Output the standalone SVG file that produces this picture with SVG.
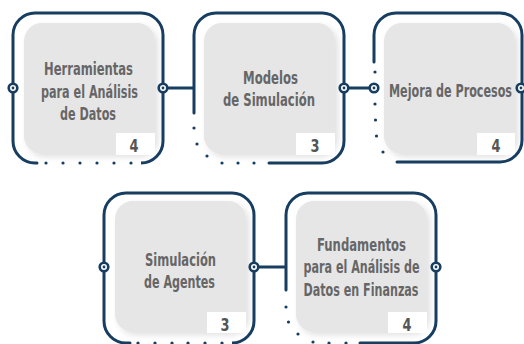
<svg xmlns="http://www.w3.org/2000/svg" width="524" height="344" viewBox="0 0 524 344">
<defs>
<style>
.frame{fill:none;stroke:#173d61;stroke-width:3;stroke-linecap:round}
.dot{fill:#173d61}
.card{fill:#e6e6e6}
.badge{fill:#ffffff}
.port{fill:#ffffff;stroke:#173d61;stroke-width:2.6}
.pc{fill:#173d61}
.lbl{font-family:"DejaVu Sans Condensed","Liberation Sans",sans-serif;font-weight:bold;font-size:17px;fill:#666666;text-anchor:middle}
.num{font-family:"DejaVu Sans Condensed","Liberation Sans",sans-serif;font-weight:bold;font-size:17px;fill:#555555;text-anchor:middle}
.conn{stroke:#173d61;stroke-width:3;fill:none}
</style>
<filter id="sh" x="-10%" y="-10%" width="130%" height="130%">
<feDropShadow dx="3" dy="3" stdDeviation="3" flood-color="#000" flood-opacity="0.12"/>
</filter>
</defs>
<rect width="524" height="344" fill="#ffffff"/>

<g id="connectors">
<line class="conn" x1="163" y1="88" x2="194" y2="88"/>
<line class="conn" x1="344" y1="88" x2="373" y2="88"/>
<line class="conn" x1="254" y1="267" x2="286" y2="267"/>
</g>

<g id="node1">
<rect class="card" x="24" y="23" width="131" height="131" rx="18" filter="url(#sh)"/>
<rect class="badge" x="116" y="133" width="39" height="22"/>
<path class="frame" d="M142,163 H141 A22,22 0 0 0 163,141 V35 A22,22 0 0 0 141,13 H35 A22,22 0 0 0 13,35 V141 A22,22 0 0 0 35,163 H37"/>
<g class="dot"><circle cx="46" cy="163" r="1.6"/><circle cx="63" cy="163" r="1.6"/><circle cx="80" cy="163" r="1.6"/><circle cx="97" cy="163" r="1.6"/><circle cx="114" cy="163" r="1.6"/><circle cx="131" cy="163" r="1.6"/></g>
<circle class="port" cx="13" cy="88" r="4.3"/><circle class="pc" cx="13" cy="88" r="1.4"/>
<circle class="port" cx="163" cy="88" r="4.3"/><circle class="pc" cx="163" cy="88" r="1.4"/>
<text class="lbl" x="88.5" y="75" textLength="89" lengthAdjust="spacingAndGlyphs">Herramientas</text>
<text class="lbl" x="89.5" y="97.5" textLength="97" lengthAdjust="spacingAndGlyphs">para el Análisis</text>
<text class="lbl" x="88" y="120" textLength="56" lengthAdjust="spacingAndGlyphs">de Datos</text>
<text class="num" x="134" y="152" textLength="9" lengthAdjust="spacingAndGlyphs">4</text>
</g>

<g id="node2">
<rect class="card" x="204" y="23" width="131" height="131" rx="18" filter="url(#sh)"/>
<rect class="badge" x="296" y="133" width="39" height="22"/>
<path class="frame" d="M269,163 H322 A22,22 0 0 0 344,141 V35 A22,22 0 0 0 322,13 H216 A22,22 0 0 0 194,35 V113"/>
<g class="dot"><circle cx="194" cy="128" r="1.6"/><circle cx="197" cy="144" r="1.6"/><circle cx="207" cy="156" r="1.6"/><circle cx="222" cy="163" r="1.6"/><circle cx="238" cy="163" r="1.6"/><circle cx="254" cy="163" r="1.6"/></g>
<circle class="port" cx="344" cy="88" r="4.3"/><circle class="pc" cx="344" cy="88" r="1.4"/>
<text class="lbl" x="270.5" y="83.5" textLength="55" lengthAdjust="spacingAndGlyphs">Modelos</text>
<text class="lbl" x="269" y="106" textLength="92" lengthAdjust="spacingAndGlyphs">de Simulación</text>
<text class="num" x="315" y="152" textLength="9" lengthAdjust="spacingAndGlyphs">3</text>
</g>

<g id="node3">
<rect class="card" x="384" y="23" width="131" height="131" rx="18" filter="url(#sh)"/>
<rect class="badge" x="477" y="133" width="38" height="22"/>
<path class="frame" d="M397,162 H500 A22,22 0 0 0 522,140 V35 A22,22 0 0 0 500,13 H396 A22,22 0 0 0 374,35 V62"/>
<g class="dot"><circle cx="375" cy="72" r="1.6"/><circle cx="375" cy="104" r="1.6"/><circle cx="375.5" cy="120" r="1.6"/><circle cx="376.5" cy="136" r="1.6"/><circle cx="383" cy="152" r="1.6"/></g>
<circle class="port" cx="374" cy="88" r="4.3"/><circle class="pc" cx="374" cy="88" r="1.4"/>
<circle class="port" cx="521" cy="88" r="4.3"/><circle class="pc" cx="521" cy="88" r="1.4"/>
<text class="lbl" x="0" y="0" transform="translate(450.5,97) scale(0.73,1)">Mejora de Procesos</text>
<text class="num" x="496" y="152" textLength="9" lengthAdjust="spacingAndGlyphs">4</text>
</g>

<g id="node4">
<rect class="card" x="115" y="201" width="131" height="131" rx="18" filter="url(#sh)"/>
<rect class="badge" x="207" y="312" width="39" height="21"/>
<path class="frame" d="M233,343 H232 A22,22 0 0 0 254,321 V215 A22,22 0 0 0 232,193 H126 A22,22 0 0 0 104,215 V321 A22,22 0 0 0 126,343 H130"/>
<g class="dot"><circle cx="138" cy="343" r="1.6"/><circle cx="155" cy="343" r="1.6"/><circle cx="172" cy="343" r="1.6"/><circle cx="188" cy="343" r="1.6"/><circle cx="205" cy="343" r="1.6"/><circle cx="222" cy="343" r="1.6"/></g>
<circle class="port" cx="104" cy="267" r="4.3"/><circle class="pc" cx="104" cy="267" r="1.4"/>
<circle class="port" cx="254" cy="267" r="4.3"/><circle class="pc" cx="254" cy="267" r="1.4"/>
<text class="lbl" x="180.5" y="266" textLength="71" lengthAdjust="spacingAndGlyphs">Simulación</text>
<text class="lbl" x="179.5" y="287.5" textLength="71" lengthAdjust="spacingAndGlyphs">de Agentes</text>
<text class="num" x="225" y="331" textLength="9" lengthAdjust="spacingAndGlyphs">3</text>
</g>

<g id="node5">
<rect class="card" x="296" y="201" width="131" height="131" rx="18" filter="url(#sh)"/>
<rect class="badge" x="388" y="312" width="39" height="21"/>
<path class="frame" d="M360,343 H414 A22,22 0 0 0 436,321 V215 A22,22 0 0 0 414,193 H308 A22,22 0 0 0 286,215 V290"/>
<g class="dot"><circle cx="286" cy="307" r="1.6"/><circle cx="288.5" cy="322" r="1.6"/><circle cx="298" cy="334" r="1.6"/><circle cx="313" cy="342" r="1.6"/><circle cx="329" cy="343" r="1.6"/><circle cx="346" cy="343" r="1.6"/></g>
<circle class="port" cx="436" cy="267" r="4.3"/><circle class="pc" cx="436" cy="267" r="1.4"/>
<text class="lbl" x="361.5" y="250.5" textLength="89" lengthAdjust="spacingAndGlyphs">Fundamentos</text>
<text class="lbl" x="361.5" y="273" textLength="116" lengthAdjust="spacingAndGlyphs">para el Análisis de</text>
<text class="lbl" x="361" y="295.5" textLength="115" lengthAdjust="spacingAndGlyphs">Datos en Finanzas</text>
<text class="num" x="407" y="331" textLength="9" lengthAdjust="spacingAndGlyphs">4</text>
</g>
</svg>
